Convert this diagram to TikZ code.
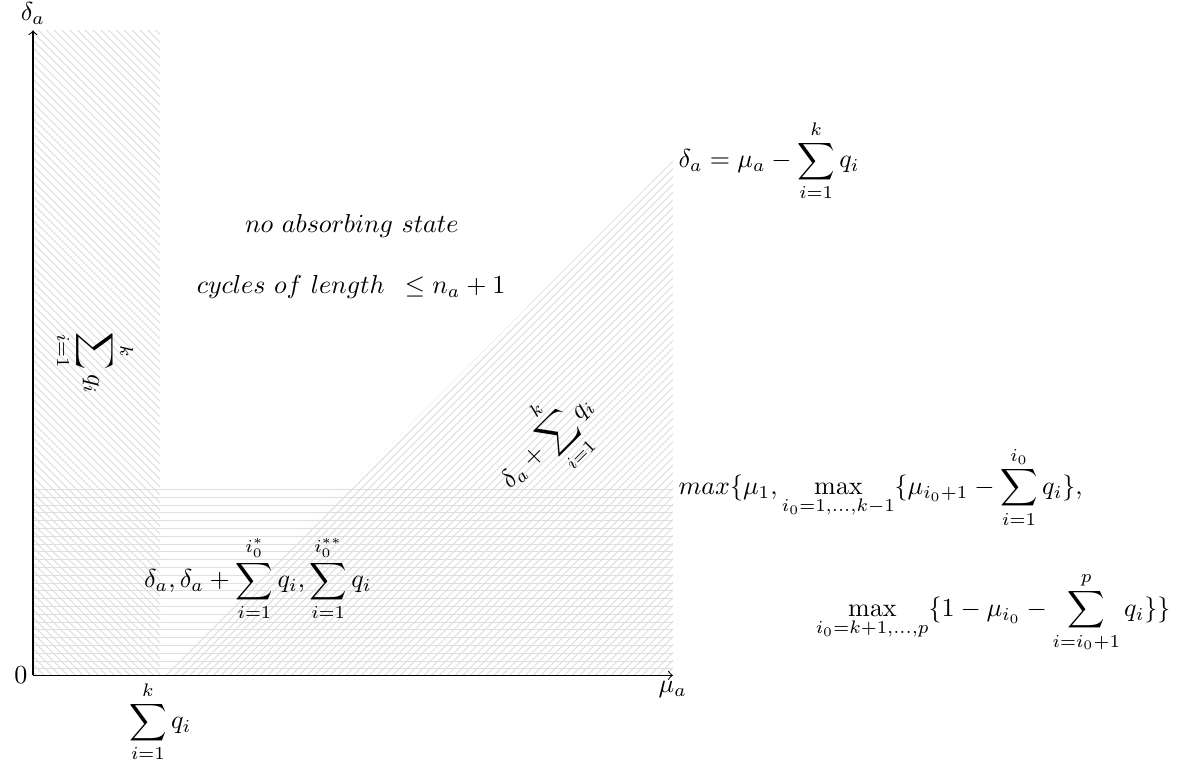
\documentclass[tikz,border=0pt]{standalone}
\usepackage{amsmath,amssymb}
\usetikzlibrary{patterns}

\begin{document}
\begin{tikzpicture}[
  hatch/.style={pattern color=gray!25},
  ax/.style={->},
  lab/.style={inner sep=2pt}]
  \useasboundingbox (-0.446,-1.30) rectangle (15.56,9.13);
  % shaded regions
  \fill[hatch,pattern=north west lines] (0,0) rectangle (1.72,8.72);
  \fill[hatch,pattern=horizontal lines] (0,0) rectangle (8.65,2.54);
  \fill[hatch,pattern=north east lines] (1.72,0) -- (8.65,6.96) -- (8.65,0) -- cycle;
  % axes
  \coordinate (o) at (0,0);
  \coordinate (xend) at (8.65,0);
  \coordinate (yend) at (0,8.72);
  \coordinate (qk) at (1.72,0);
  \coordinate (diag) at (8.65,6.96);
  \coordinate (band) at (8.65,2.54);
  \draw[ax] (o) -- (xend);
  \draw[ax] (o) -- (yend);
  \node[lab,left] (zero) at (o) {$0$};
  \node[lab,below] (mua) at (xend) {$\mu_a$};
  \node[lab,above] (deltaa) at (yend) {$\delta_a$};
  \node[lab,below] (sumk) at (qk) {$\displaystyle\sum_{i=1}^{k} q_i$};
  \node[lab,right] (line) at (diag) {$\delta_a=\mu_a-\displaystyle\sum_{i=1}^{k} q_i$};
  % region texts
  \node[lab] (noabs) at (4.31,6.08) {$no\ absorbing\ state$};
  \node[lab] (cycles) at (4.30,5.25) {$cycles\ of\ length\ \,\leq n_a+1$};
  \node[lab,rotate=-90] (strip) at (0.84,4.22) {$\displaystyle\sum_{i=1}^{k} q_i$};
  \node[lab,rotate=45] (slope) at (6.95,3.14) {$\delta_a+\displaystyle\sum_{i=1}^{k} q_i$};
  \node[lab] (low) at (3.04,1.31) {$\delta_a,\delta_a+\displaystyle\sum_{i=1}^{i_0^*} q_i,\sum_{i=1}^{i_0^{**}} q_i$};
  \node[lab,right] (maxa) at (band) {$max\{\mu_1,\displaystyle\max_{i_0=1,\ldots,k-1}\{\mu_{i_0+1}-\sum_{i=1}^{i_0} q_i\},$};
  \node[lab] (maxb) at (12.98,0.85) {$\displaystyle\max_{i_0=k+1,\ldots,p}\{1-\mu_{i_0}-\sum_{i=i_0+1}^{p} q_i\}\}$};
\end{tikzpicture}
\end{document}
